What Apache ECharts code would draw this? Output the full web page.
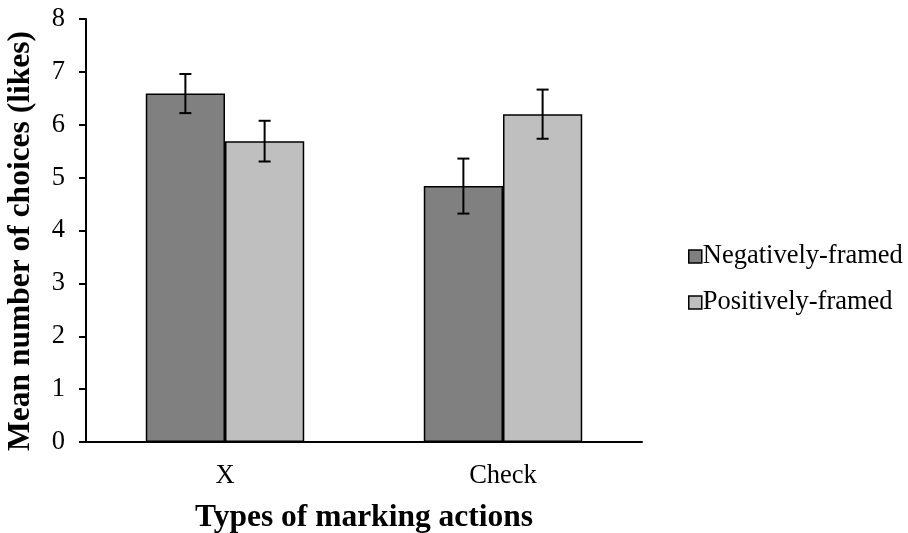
<!DOCTYPE html>
<html><head><meta charset="utf-8">
<script src="https://cdn.jsdelivr.net/npm/echarts@6/dist/echarts.min.js"></script>
<style>html,body{margin:0;padding:0;background:#fff}#c{width:908px;height:533px}</style>
</head><body><div id="c"></div>
<script>
const categories = ['X', 'Check'];
const seriesNames = ['Negatively-framed', 'Positively-framed'];
const negValues = [6.59, 4.84];
const posValues = [5.69, 6.20];
const negErr = [0.37, 0.52];
const posErr = [0.385, 0.465];
const colors = ['#808080', '#bfbfbf'];
const FONT = '"Liberation Serif", "Times New Roman", serif';

const chart = echarts.init(document.getElementById('c'));

function errSeries(vals, errs, idx) {
  return {
    type: 'custom',
    name: seriesNames[idx] + ' err',
    z: 10,
    silent: true,
    data: vals.map((v, i) => [i, v - errs[i], v + errs[i]]),
    renderItem: function (params, api) {
      const ci = api.value(0);
      const lo = api.coord([ci, api.value(1)]);
      const hi = api.coord([ci, api.value(2)]);
      const bw = api.size([1, 0])[0];
      const barW = bw * 0.57 / 2;
      const x = lo[0] + (idx === 0 ? -barW / 2 : barW / 2);
      const cap = 6;
      const st = { stroke: '#000', lineWidth: 2 };
      return {
        type: 'group',
        children: [
          { type: 'line', shape: { x1: x, y1: lo[1], x2: x, y2: hi[1] }, style: st },
          { type: 'line', shape: { x1: x - cap, y1: lo[1], x2: x + cap, y2: lo[1] }, style: st },
          { type: 'line', shape: { x1: x - cap, y1: hi[1], x2: x + cap, y2: hi[1] }, style: st }
        ]
      };
    }
  };
}

chart.setOption({
  animation: false,
  textStyle: { fontFamily: FONT },
  grid: { left: 86, right: 266, top: 19, bottom: 91, containLabel: false, outerBoundsMode: 'none' },
  legend: {
    data: seriesNames,
    orient: 'vertical',
    left: 683,
    top: 238,
    itemWidth: 13,
    itemHeight: 13,
    itemGap: 19,
    icon: 'rect',
    textStyle: { fontFamily: FONT, fontSize: 26.5, color: '#000', padding: [0, 0, 0, -4] },
    itemStyle: { borderColor: '#000', borderWidth: 1.5 }
  },
  xAxis: {
    type: 'category',
    data: categories,
    axisLine: { lineStyle: { color: '#000', width: 2 } },
    axisTick: { show: false },
    axisLabel: { fontFamily: FONT, fontSize: 26.5, color: '#000', margin: 21 },
    name: 'Types of marking actions',
    nameLocation: 'middle',
    nameGap: 60,
    nameTextStyle: { fontFamily: FONT, fontSize: 31.5, fontWeight: 'bold', color: '#000' }
  },
  yAxis: {
    type: 'value',
    min: 0, max: 8, interval: 1,
    splitLine: { show: false },
    axisLine: { show: true, lineStyle: { color: '#000', width: 2 } },
    axisTick: { show: true, length: 7, lineStyle: { color: '#000', width: 2 } },
    axisLabel: { fontFamily: FONT, fontSize: 26.5, color: '#000', margin: 21 },
    name: 'Mean number of choices (likes)',
    nameLocation: 'middle',
    nameGap: 49,
    nameTextStyle: { fontFamily: FONT, fontSize: 31.5, fontWeight: 'bold', color: '#000', padding: [0, 21, 0, 0] }
  },
  series: [
    {
      type: 'bar', name: seriesNames[0], data: negValues,
      barGap: '0%', barCategoryGap: '43%',
      itemStyle: { color: colors[0], borderColor: '#000', borderWidth: 1.5 }
    },
    {
      type: 'bar', name: seriesNames[1], data: posValues,
      barGap: '0%', barCategoryGap: '43%',
      itemStyle: { color: colors[1], borderColor: '#000', borderWidth: 1.5 }
    },
    errSeries(negValues, negErr, 0),
    errSeries(posValues, posErr, 1)
  ]
});
</script></body></html>
